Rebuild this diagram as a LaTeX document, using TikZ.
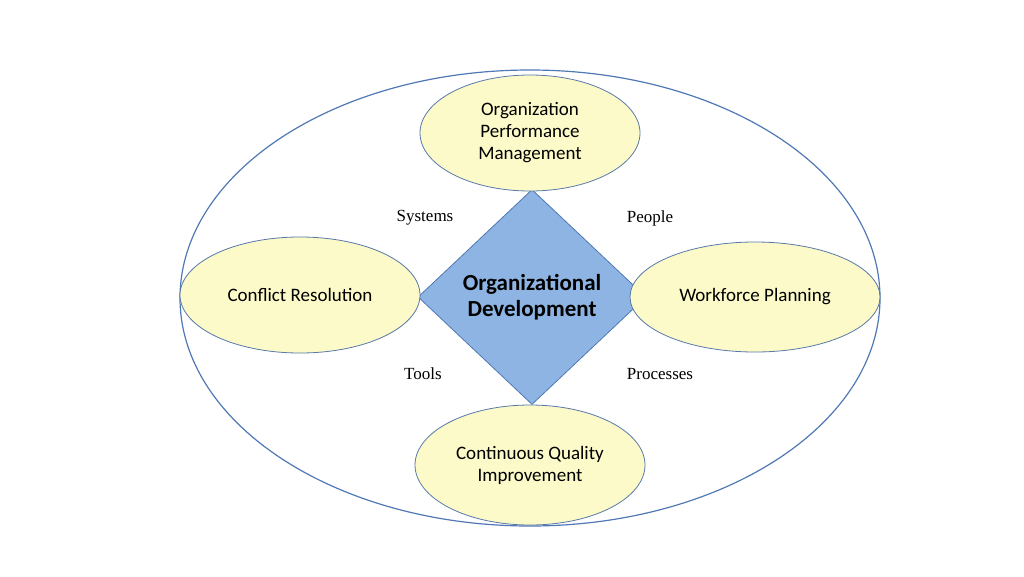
\documentclass[tikz,border=0pt]{standalone}
\usepackage{fontspec}
\setmainfont{Liberation Serif}
\newfontfamily\lblfont{Carlito}
\usetikzlibrary{shapes.geometric}
\definecolor{edge}{RGB}{80,120,180}
\definecolor{dfill}{RGB}{141,180,226}
\definecolor{yfill}{RGB}{252,250,200}
\tikzset{
  oval/.style={ellipse,draw=edge!80!gray,line width=0.8pt,fill=yfill,align=center,font=\lblfont\fontsize{19}{22}\selectfont,inner sep=0pt},
  tag/.style={font=\fontsize{17}{20}\selectfont}
}
\begin{document}
\begin{tikzpicture}[x=1pt,y=-1pt]
\useasboundingbox (0,0) rectangle (1024,576);
\node[ellipse,draw=edge,line width=1.2pt,minimum width=700,minimum height=456,inner sep=0pt] (outer) at (530,298) {};
\node[diamond,draw=edge,line width=0.8pt,fill=dfill,minimum width=228,minimum height=215,inner sep=0pt,align=center,font=\lblfont\bfseries\fontsize{23}{26}\selectfont] (od) at (532,297) {Organizational\\Development};
\node[oval,minimum width=220,minimum height=116] (top) at (530,133) {Organization\\Performance\\Management};
\node[oval,minimum width=240,minimum height=116] (left) at (300,295) {Conflict Resolution};
\node[oval,minimum width=250,minimum height=110] (right) at (755,297) {Workforce Planning};
\node[oval,minimum width=230,minimum height=120] (bottom) at (530,465) {Continuous Quality\\Improvement};
\node[tag] (sys) at (425,218) {Systems};
\node[tag] (ppl) at (650,218) {People};
\node[tag] (tls) at (423,374) {Tools};
\node[tag] (prc) at (660,374) {Processes};
\end{tikzpicture}
\end{document}
